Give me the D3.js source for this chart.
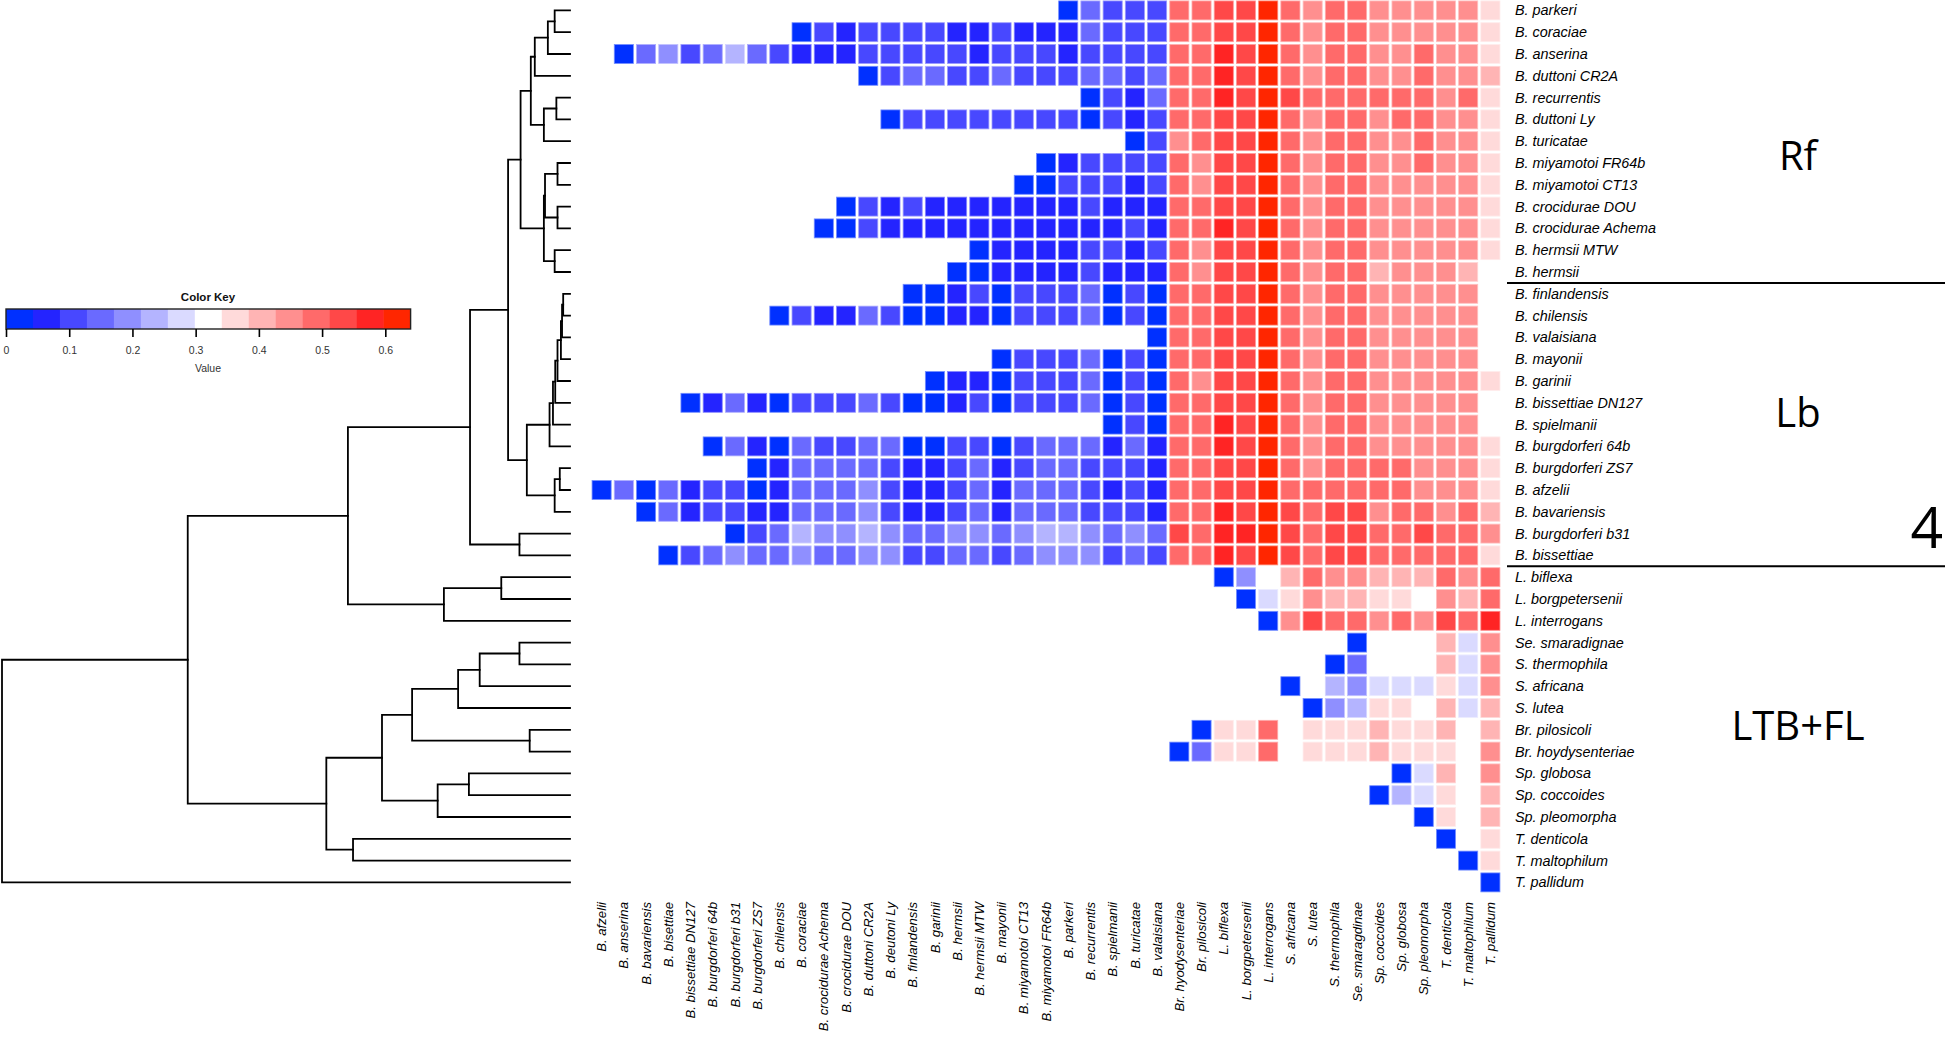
<!DOCTYPE html>
<html><head><meta charset="utf-8">
<script src="https://cdn.jsdelivr.net/npm/d3@7"></script>
<style>body{margin:0;background:#fff}svg{display:block}</style>
</head><body>
<svg id="chart" width="1945" height="1038"></svg>
<script>
// ---------- DATA ----------
const colNames = ["B. afzelii","B. anserina","B. bavariensis","B. bisettiae","B. bissettiae DN127","B. burgdorferi 64b","B. burgdorferi b31","B. burgdorferi ZS7","B. chilensis","B. coraciae","B. crocidurae Achema","B. crocidurae DOU","B. duttoni CR2A","B. deutoni Ly","B. finlandensis","B. garinii","B. hermsii","B. hermsii MTW","B. mayonii","B. miyamotoi CT13","B. miyamotoi FR64b","B. parkeri","B. recurrentis","B. spielmanii","B. turicatae","B. valaisiana","Br. hyodysenteriae","Br. pilosicoli","L. biflexa","L. borgpetersenii","L. interrogans","S. africana","S. lutea","S. thermophila","Se. smaragdinae","Sp. coccoides","Sp. globosa","Sp. pleomorpha","T. denticola","T. maltophilum","T. pallidum"];

const rowNames = ["B. parkeri","B. coraciae","B. anserina","B. duttoni CR2A","B. recurrentis","B. duttoni Ly","B. turicatae","B. miyamotoi FR64b","B. miyamotoi CT13","B. crocidurae DOU","B. crocidurae Achema","B. hermsii MTW","B. hermsii","B. finlandensis","B. chilensis","B. valaisiana","B. mayonii","B. garinii","B. bissettiae DN127","B. spielmanii","B. burgdorferi 64b","B. burgdorferi ZS7","B. afzelii","B. bavariensis","B. burgdorferi b31","B. bissettiae","L. biflexa","L. borgpetersenii","L. interrogans","Se. smaradignae","S. thermophila","S. africana","S. lutea","Br. pilosicoli","Br. hoydysenteriae","Sp. globosa","Sp. coccoides","Sp. pleomorpha","T. denticola","T. maltophilum","T. pallidum"];

// column index of each row's own taxon (first cell of the row)
const rowDiagCol = [21,9,1,12,22,13,24,20,19,11,10,17,16,14,8,25,18,15,4,23,5,7,0,2,6,3,28,29,30,34,33,31,32,27,26,36,35,37,38,39,40];

// distances of each row, from its own column to the last column
const distances = [
 [0,.15,.11,.11,.11, .49,.49,.53,.53,.62,.49,.45,.49,.49,.45,.45,.45,.45,.45,.36],
 [0,.11,.06,.11,.11,.11,.11,.06,.06,.11,.06,.06,.06,.15,.11,.11,.11, .49,.49,.53,.53,.62,.49,.45,.49,.49,.45,.45,.45,.45,.45,.36],
 [0,.15,.19,.11,.15,.24,.15,.11,.06,.06,.06,.11,.11,.11,.11,.11,.06,.11,.11,.11,.06,.11,.11,.11,.11, .49,.49,.58,.53,.62,.49,.45,.49,.49,.45,.45,.49,.45,.45,.36],
 [0,.11,.15,.15,.11,.11,.15,.11,.11,.11,.15,.15,.11,.15, .49,.49,.58,.53,.62,.49,.45,.49,.49,.45,.45,.49,.45,.45,.41],
 [0,.11,.06,.15, .49,.49,.58,.53,.62,.53,.49,.49,.49,.49,.49,.49,.45,.49,.36],
 [0,.11,.11,.11,.11,.11,.11,.11,.11,.03,.11,.06,.11, .49,.49,.53,.53,.62,.49,.45,.49,.49,.45,.49,.49,.45,.45,.36],
 [0,.11, .45,.49,.53,.53,.62,.49,.45,.49,.49,.45,.45,.49,.45,.45,.36],
 [0,.06,.11,.11,.11,.11, .49,.45,.53,.53,.62,.49,.45,.49,.49,.45,.45,.49,.45,.45,.36],
 [0,.03,.11,.11,.11,.06,.11, .49,.45,.53,.53,.62,.49,.45,.49,.49,.45,.45,.45,.45,.45,.36],
 [0,.11,.06,.11,.06,.06,.06,.06,.06,.06,.06,.11,.06,.06,.06, .49,.49,.53,.53,.62,.49,.45,.49,.49,.45,.45,.45,.45,.45,.36],
 [0,.03,.11,.06,.06,.06,.06,.06,.06,.06,.06,.06,.06,.06,.11,.06, .49,.49,.58,.53,.62,.49,.45,.49,.49,.45,.45,.45,.45,.45,.36],
 [0,.06,.06,.06,.06,.11,.11,.06,.11, .49,.45,.53,.53,.62,.49,.45,.49,.49,.45,.45,.45,.45,.45,.36],
 [0,.03,.06,.06,.06,.06,.11,.06,.06,.06, .49,.45,.53,.53,.62,.49,.45,.49,.49,.41,.45,.45,.45,.41,.32],
 [0,.03,.06,.11,.03,.11,.11,.11,.15,.03,.11,.03, .49,.49,.53,.53,.62,.49,.45,.49,.49,.45,.45,.45,.45,.45,.32],
 [0,.11,.06,.06,.15,.11,.03,.03,.06,.06,.03,.11,.11,.11,.15,.03,.11,.03, .49,.49,.53,.53,.62,.49,.45,.49,.49,.45,.45,.45,.45,.45,.32],
 [0, .49,.49,.53,.53,.62,.49,.45,.49,.49,.45,.45,.45,.45,.45,.32],
 [0,.11,.11,.11,.15,.03,.11,.03, .49,.49,.53,.53,.62,.49,.45,.49,.49,.45,.45,.45,.45,.45,.32],
 [0,.06,.06,.03,.11,.11,.11,.15,.03,.11,.03, .49,.45,.53,.53,.62,.49,.45,.49,.49,.45,.45,.45,.45,.45,.36],
 [0,.06,.15,.06,.03,.11,.11,.11,.15,.11,.03,.03,.06,.11,.03,.11,.11,.11,.15,.03,.11,.03, .49,.49,.53,.53,.62,.49,.45,.49,.49,.45,.45,.45,.45,.45,.32],
 [0,.11,.03, .49,.49,.58,.53,.62,.49,.45,.49,.49,.45,.45,.45,.45,.45,.32],
 [0,.15,.06,.03,.15,.11,.11,.15,.15,.03,.03,.11,.11,.03,.11,.15,.15,.15,.06,.15,.06, .49,.49,.58,.53,.62,.49,.45,.49,.49,.45,.45,.45,.45,.45,.36],
 [0,.06,.15,.15,.15,.15,.11,.06,.06,.11,.15,.06,.11,.15,.15,.11,.11,.11,.06, .49,.49,.53,.53,.62,.49,.45,.49,.49,.49,.49,.45,.45,.45,.36],
 [0,.15,.03,.15,.06,.11,.11,.03,.06,.15,.15,.15,.19,.11,.06,.06,.11,.15,.06,.15,.15,.15,.11,.06,.11,.06, .49,.49,.53,.53,.62,.49,.49,.49,.49,.49,.49,.45,.45,.45,.36],
 [0,.15,.06,.11,.11,.06,.06,.15,.15,.15,.19,.11,.06,.06,.11,.15,.06,.15,.15,.15,.11,.11,.11,.06, .49,.49,.58,.53,.62,.53,.49,.53,.53,.45,.49,.49,.45,.49,.41],
 [0,.11,.15,.24,.19,.19,.24,.19,.15,.15,.19,.19,.15,.19,.24,.24,.19,.15,.19,.15, .53,.49,.58,.58,.62,.53,.49,.53,.53,.49,.49,.53,.49,.49,.45],
 [0,.11,.15,.19,.15,.15,.19,.15,.15,.19,.19,.11,.11,.15,.15,.11,.15,.19,.19,.19,.11,.15,.11, .49,.49,.58,.53,.62,.53,.49,.53,.53,.49,.49,.49,.49,.49,.36],
 [0,.19,.32,.41,.49,.45,.45,.41,.41,.41,.49,.45,.49],
 [0,.28,.36,.45,.41,.41,.36,.36,.32,.45,.41,.49],
 [0,.45,.53,.49,.49,.45,.49,.45,.53,.49,.58],
 [0,.32,.32,.32,.41,.28,.45],
 [0,.15,.32,.32,.32,.41,.28,.45],
 [0,.32,.24,.19,.28,.28,.28,.36,.28,.45],
 [0,.19,.24,.36,.36,.32,.41,.28,.41],
 [0,.36,.36,.49,.32,.36,.36,.36,.41,.36,.36,.41,.32,.41],
 [0,.15,.36,.36,.49,.32,.36,.36,.36,.41,.36,.36,.36,.32,.45],
 [0,.28,.41,.32,.45],
 [0,.24,.28,.36,.32,.41],
 [0,.36,.32,.41],
 [0,.32,.36],
 [0,.36],
 [0]
];

// colour key
const keyColors = ["#0030ff","#2424ff","#4848ff","#6a6aff","#8f8fff","#b4b4ff","#dadaff","#ffffff","#ffdada","#ffb4b4","#ff8f8f","#ff6a6a","#ff4848","#ff2424","#ff2600"];
const keyDomain = [0, 0.64];
const keyTicks = [0, 0.1, 0.2, 0.3, 0.4, 0.5, 0.6];

// dendrogram merges (hclust style): negative = leaf (row index + 1), positive = earlier merge (1-based); third = height
const dendroMerges = [
 [-1,-2,0.027],[1,-3,0.039],[2,-4,0.062],[-5,-6,0.024],[4,-7,0.046],[3,5,0.069],
 [-8,-9,0.022],[-10,-11,0.022],[7,8,0.044],[-12,-13,0.027],[9,10,0.046],[6,11,0.087],
 [-14,-15,0.012],[13,-16,0.014],[14,-17,0.016],[15,-18,0.022],[16,-19,0.026],[17,-20,0.030],[18,-21,0.036],
 [-22,-23,0.018],[20,-24,0.027],[19,21,0.076],[12,22,0.109],[-25,-26,0.089],[23,24,0.176],
 [-27,-28,0.121],[26,-29,0.222],[25,27,0.391],
 [-30,-31,0.089],[29,-32,0.159],[30,-33,0.197],[-34,-35,0.071],[31,32,0.278],
 [-36,-37,0.178],[34,-38,0.233],[33,35,0.331],[-39,-40,0.382],[36,37,0.429],
 [28,38,0.673],[39,-41,1.0]
];

const groupLabels = ["Rf", "Lb", "LTB+FL"];
const sideNumber = "4";

// ---------- DRAW ----------
const svg = d3.select("#chart");
const x = d3.scaleBand().domain(colNames).range([590.5, 1501.5]).paddingInner(0.14).paddingOuter(0.07);
const y = d3.scaleBand().domain(rowNames).range([-0.5, 893.3]).paddingInner(0.13).paddingOuter(0.065);
const color = d3.scaleQuantize().domain(keyDomain).range(keyColors);

const cells = [];
rowNames.forEach((r, i) => {
  if (distances[i].length !== colNames.length - rowDiagCol[i]) console.warn("row length", r);
  distances[i].forEach((v, k) => cells.push({row: r, col: colNames[rowDiagCol[i] + k], v}));
});

svg.append("g").selectAll("rect").data(cells).join("rect")
  .attr("x", d => x(d.col)).attr("y", d => y(d.row))
  .attr("width", x.bandwidth()).attr("height", y.bandwidth())
  .attr("fill", d => color(d.v))
  .attr("stroke", d => d3.interpolateRgb(color(d.v), "#ffffff")(0.45))
  .attr("stroke-width", 0.8);

// row labels
svg.append("g").selectAll("text").data(rowNames).join("text")
  .attr("x", 1515).attr("y", d => y(d) + y.bandwidth() / 2).attr("dy", "0.35em")
  .attr("font-family", "Liberation Sans, Arial, sans-serif").attr("font-style", "italic")
  .attr("font-size", 14.4).attr("fill", "#000").text(d => d);

// column labels
svg.append("g").selectAll("text").data(colNames).join("text")
  .attr("transform", d => `translate(${x(d) + x.bandwidth() / 2},902) rotate(-90)`)
  .attr("dy", "0.35em").attr("text-anchor", "end")
  .attr("font-family", "Liberation Sans, Arial, sans-serif").attr("font-style", "italic")
  .attr("font-size", 13.2).attr("fill", "#000").text(d => d);

// dendrogram
const hx = d3.scaleLinear().domain([0, 1]).range([570, 2]);
const nodes = [];
const pos = c => c < 0 ? {y: y(rowNames[-c - 1]) + y.bandwidth() / 2, h: 0} : nodes[c - 1];
dendroMerges.forEach(([a, b, h]) => {
  const pa = pos(a), pb = pos(b);
  nodes.push({y: (pa.y + pb.y) / 2, h, pa, pb});
});
svg.append("g").selectAll("path").data(nodes).join("path")
  .attr("d", n => `M${hx(n.pa.h)},${n.pa.y}H${hx(n.h)}V${n.pb.y}H${hx(n.pb.h)}`)
  .attr("fill", "none").attr("stroke", "#000").attr("stroke-width", 1.8)
  .attr("stroke-linecap", "square");

// separators and group labels
const sepY = [ (y(rowNames[12]) + y.bandwidth() + y(rowNames[13])) / 2,
               (y(rowNames[25]) + y.bandwidth() + y(rowNames[26])) / 2 ];
svg.append("g").selectAll("line").data(sepY).join("line")
  .attr("x1", 1507).attr("x2", 1945).attr("y1", d => d).attr("y2", d => d)
  .attr("stroke", "#000").attr("stroke-width", 2);

const groupY = [170, 427, 740];
svg.append("g").selectAll("text").data(groupLabels).join("text")
  .attr("x", 1798).attr("y", (d, i) => groupY[i]).attr("text-anchor", "middle")
  .attr("font-family", "Open Sans, sans-serif").attr("font-size", 40).attr("fill", "#000")
  .text(d => d);
svg.append("text").attr("x", 1943).attr("y", 548).attr("text-anchor", "end")
  .attr("font-family", "Open Sans, sans-serif").attr("font-size", 57).attr("fill", "#000")
  .text(sideNumber);

// colour key
const kx = d3.scaleLinear().domain(keyDomain).range([6, 410.6]);
const edges = [keyDomain[0], ...color.thresholds(), keyDomain[1]];
const key = svg.append("g");
key.selectAll("rect.bin").data(keyColors).join("rect").attr("class", "bin")
  .attr("x", (d, i) => kx(edges[i])).attr("y", 309)
  .attr("width", (d, i) => kx(edges[i + 1]) - kx(edges[i]) + 0.3).attr("height", 20)
  .attr("fill", d => d);
key.append("rect").attr("x", kx(0)).attr("y", 309).attr("width", kx(0.64) - kx(0)).attr("height", 20)
  .attr("fill", "none").attr("stroke", "#222").attr("stroke-width", 1.4);
const axis = key.append("g").attr("transform", "translate(0,329)")
  .call(d3.axisBottom(kx).tickValues(keyTicks).tickSize(8).tickPadding(10).tickFormat(d3.format("~g")));
axis.select(".domain").remove();
axis.selectAll(".tick line").attr("stroke", "#000").attr("stroke-width", 1.6);
axis.selectAll(".tick text").attr("font-family", "Liberation Sans, Arial, sans-serif")
  .attr("font-size", 10.5).attr("fill", "#333");
key.append("text").attr("x", 208).attr("y", 301).attr("text-anchor", "middle")
  .attr("font-family", "Liberation Sans, Arial, sans-serif").attr("font-weight", "bold")
  .attr("font-size", 11.5).attr("fill", "#111").text("Color Key");
key.append("text").attr("x", 208).attr("y", 372).attr("text-anchor", "middle")
  .attr("font-family", "Liberation Sans, Arial, sans-serif")
  .attr("font-size", 10.5).attr("fill", "#333").text("Value");
</script>
</body></html>
